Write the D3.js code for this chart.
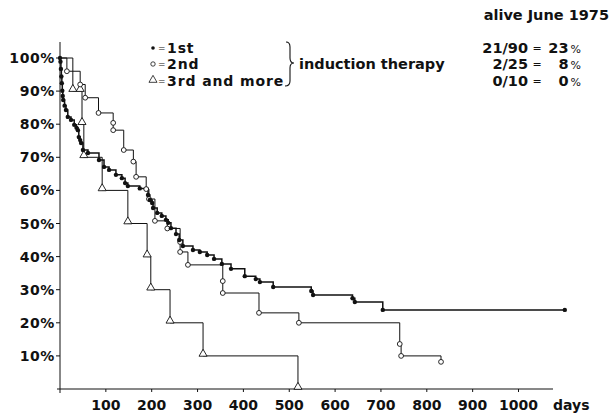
<!DOCTYPE html>
<html>
<head>
<meta charset="utf-8">
<script src="https://cdn.jsdelivr.net/npm/d3@7"></script>
<style>
  body { margin: 0; background: #fff; }
  svg text { font-family: "DejaVu Sans", sans-serif; font-weight: bold; fill: #111; }
</style>
</head>
<body>
<svg id="chart" width="611" height="416"></svg>
<script>
// survival (%) after each event, by day
const survFirst = [[0,100],[1,98.9],[2,96.7],[3,94.4],[4,92.4],[5,90.1],[6,88.5],[7,87.3],[10,85.6],[13,84.3],[17,82.2],[24,81.3],[31,79.8],[36,78.9],[39,78.2],[41,76.1],[44,75.2],[46,74.3],[50,72.2],[61,71.3],[85,69.2],[96,67.1],[107,66.2],[122,64.7],[135,63.7],[142,62.2],[148,61.3],[174,60.6],[192,58.6],[196,57.1],[201,56.2],[203,54.7],[212,53.2],[222,52.3],[231,51.1],[236,50.2],[242,48.6],[253,46.8],[260,45.0],[268,43.2],[290,42.0],[305,41.4],[321,40.5],[336,39.3],[353,37.8],[373,36.3],[403,34.1],[427,33.2],[436,32.3],[465,30.8],[548,29.6],[552,28.4],[638,27.4],[643,26.3],[704,23.9],[1101,23.9]];
const survSecond = [[0,100],[15,96],[44,92],[55,88],[84,83.4],[116,80.4],[116,78.2],[139,72.2],[160,68.7],[166,64.1],[188,60.4],[194,57.4],[207,50.8],[234,48.5],[262,44.4],[262,41.4],[279,37.5],[355,32.6],[355,29],[434,23],[521,20],[741,13.6],[744,10],[831,8.2]];
const survThird = [[0,100],[28,90],[44,90],[48,80],[52,70],[92,60],[148,50],[190,40],[198,30],[240,20],[312,10],[519,0]];

const xTicks = [100, 200, 300, 400, 500, 600, 700, 800, 900, 1000];
const yTicks = [10, 20, 30, 40, 50, 60, 70, 80, 90, 100];
const legendLabels = ['1st', '2nd', '3rd and more'];
const aliveRows = [['21/90', '23'], ['2/25', '8'], ['0/10', '0']];

const svg = d3.select('#chart');
const x = d3.scaleLinear().domain([0, 1000]).range([60, 518.5]);
const y = d3.scaleLinear().domain([0, 100]).range([389, 58]);
const ink = '#111';

// axes
svg.append('line').attr('x1', 57).attr('x2', 553).attr('y1', y(0)).attr('y2', y(0))
  .attr('stroke', ink).attr('stroke-width', 1);
svg.append('line').attr('x1', x(0)).attr('x2', x(0)).attr('y1', 42).attr('y2', y(0) + 4)
  .attr('stroke', ink).attr('stroke-width', 1);

svg.selectAll('.xt').data(xTicks).enter().append('line')
  .attr('x1', d => x(d)).attr('x2', d => x(d))
  .attr('y1', y(0)).attr('y2', y(0) + 3)
  .attr('stroke', ink);
svg.selectAll('.xl').data(xTicks).enter().append('text')
  .attr('x', d => x(d)).attr('y', 410)
  .attr('text-anchor', 'middle').style('font-size', '14px')
  .text(d => d);
svg.append('text').attr('x', 553).attr('y', 410).style('font-size', '14px').text('days');

svg.selectAll('.yt').data(yTicks).enter().append('line')
  .attr('x1', x(0) - 4).attr('x2', x(0))
  .attr('y1', d => y(d)).attr('y2', d => y(d))
  .attr('stroke', ink);
svg.selectAll('.yl').data(yTicks).enter().append('text')
  .attr('x', 55).attr('y', d => y(d) + 5)
  .attr('text-anchor', 'end').style('font-size', '14px').style('letter-spacing', '0.6px')
  .text(d => d + '%');

// curves
const line = d3.line().x(d => x(d[0])).y(d => y(d[1])).curve(d3.curveStepAfter);
[[survThird, 1], [survSecond, 1], [survFirst, 1.5]].forEach(([data, w]) => {
  svg.append('path').datum(data).attr('d', line)
    .attr('fill', 'none').attr('stroke', ink).attr('stroke-width', w);
});

const tri = d3.symbol().type(d3.symbolTriangle).size(28);
svg.selectAll('.m3').data(survThird.slice(1)).enter().append('path')
  .attr('d', tri)
  .attr('transform', d => `translate(${x(d[0])},${y(d[1]) - 2})`)
  .attr('fill', '#fff').attr('stroke', ink).attr('stroke-width', 0.9);

svg.selectAll('.m2').data(survSecond.slice(1)).enter().append('circle')
  .attr('cx', d => x(d[0])).attr('cy', d => y(d[1])).attr('r', 2.4)
  .attr('fill', '#fff').attr('stroke', ink).attr('stroke-width', 0.9);

svg.selectAll('.m1').data(survFirst).enter().append('circle')
  .attr('cx', d => x(d[0])).attr('cy', d => y(d[1])).attr('r', 2.2)
  .attr('fill', ink);

// legend
const legY = [48, 64, 81];
const leg = svg.selectAll('.leg').data(legendLabels).enter().append('g')
  .attr('transform', (d, i) => `translate(0,${legY[i]})`);
leg.append('text').attr('x', 158).attr('y', 3).style('font-size', '9px').style('font-weight', 'normal').text('=');
leg.append('text').attr('x', 167).attr('y', 5).style('font-size', '14px').style('letter-spacing', '0.9px').text(d => d);
leg.filter((d, i) => i == 0).append('circle').attr('cx', 153).attr('cy', 0).attr('r', 1.8).attr('fill', ink);
leg.filter((d, i) => i == 1).append('circle').attr('cx', 153).attr('cy', 0).attr('r', 2.2)
  .attr('fill', '#fff').attr('stroke', ink).attr('stroke-width', 0.8);
leg.filter((d, i) => i == 2).append('path').attr('d', tri).attr('transform', 'translate(153,-1)')
  .attr('fill', '#fff').attr('stroke', ink).attr('stroke-width', 0.8);

svg.append('path')
  .attr('d', 'M286,42 Q290,42 290,47 L290,58 Q290,63 294,63 Q290,63 290,68 L290,81 Q290,86 285,86')
  .attr('fill', 'none').attr('stroke', ink).attr('stroke-width', 1.1);
svg.append('text').attr('x', 299).attr('y', 69).style('font-size', '14.5px').text('induction therapy');

// alive June 1975
svg.append('text').attr('x', 609).attr('y', 20).attr('text-anchor', 'end')
  .style('font-size', '14.5px').text('alive June 1975');
const rowY = [53, 69, 86];
aliveRows.forEach((r, i) => {
  svg.append('text').attr('x', 528).attr('y', rowY[i]).attr('text-anchor', 'end')
    .style('font-size', '14.5px').text(r[0]);
  svg.append('text').attr('x', 537).attr('y', rowY[i] - 1).attr('text-anchor', 'middle')
    .style('font-size', '11px').style('font-weight', 'normal').text('=');
  const t = svg.append('text').attr('x', 581).attr('y', rowY[i]).attr('text-anchor', 'end')
    .style('font-size', '14.5px');
  t.append('tspan').text(r[1]);
  t.append('tspan').attr('dx', 2).style('font-size', '11px').style('font-weight', 'normal').text('%');
});
</script>
</body>
</html>
